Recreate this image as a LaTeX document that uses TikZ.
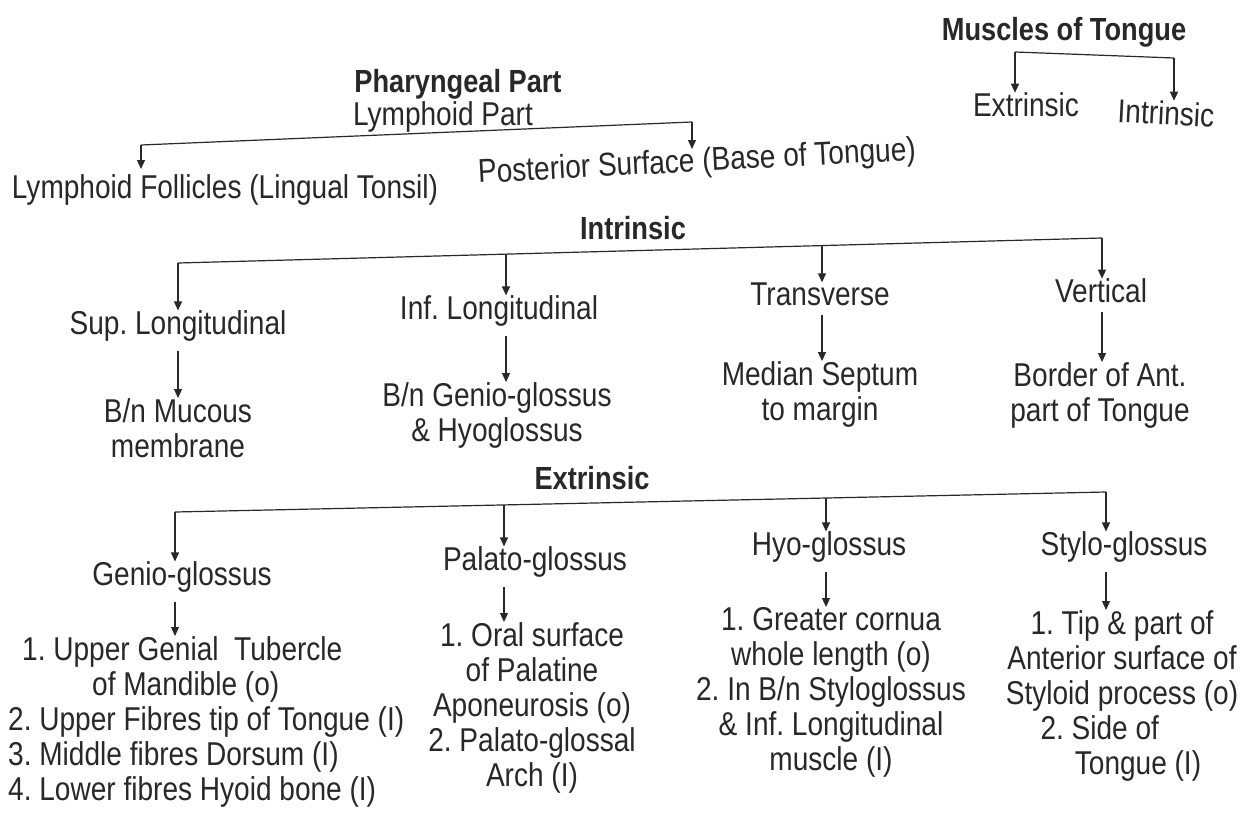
\documentclass[tikz,border=0pt]{standalone}
\usepackage{fontspec}
\setmainfont{Liberation Sans}[FakeStretch=0.85]
\usetikzlibrary{arrows.meta}
\definecolor{ink}{RGB}{40,40,40}
\frenchspacing
\begin{document}
\frenchspacing
\begin{tikzpicture}[x=1pt,y=-1pt,
  every node/.style={font=\fontsize{33}{35}\selectfont\frenchspacing, text=ink, inner sep=0pt},
  head/.style={font=\fontsize{32}{35}\selectfont\bfseries},
  brk/.style={draw=ink, line width=1.2pt},
  conn/.style={draw=ink, line width=1.2pt, -{Triangle[width=8pt,length=9pt]}},
  sub/.style={conn, shorten <=9pt},
  blk/.style={align=center, anchor=north}]
\useasboundingbox[fill=white] (0,0) rectangle (1252,822);

% ---- Muscles of Tongue
\node[head] (mt) at (1064,32) {Muscles of Tongue};
\coordinate (mtL) at (1015,52);
\coordinate (mtR) at (1174,58);
\node (mtE) at (1026,105) {Extrinsic};
\node[rotate=-3] (mtI) at (1166,113) {Intrinsic};
\draw[brk] (mtL) -- (mtR);
\draw[conn] (mtL) -- (mtL |- mtE.north);
\draw[conn] (mtR) -- (mtR |- mtI.north);

% ---- Pharyngeal part
\node[head] (ph) at (458,84) {Pharyngeal Part};
\node (lp) at (443,117) {Lymphoid Part};
\coordinate (pL) at (141,145);
\coordinate (pR) at (692,122);
\node (lf) at (225,190) {Lymphoid Follicles (Lingual Tonsil)};
\node[rotate=3] (ps) at (697,163) {Posterior Surface (Base of Tongue)};
\draw[brk] (pL) -- (pR);
\draw[conn] (pL) -- ++(0,24);
\draw[conn] (pR) -- ++(0,27);

% ---- Intrinsic
\node[head] (intr) at (633,228) {Intrinsic};
\coordinate (iA) at (178,263);
\coordinate (iD) at (1102,238);
\coordinate (iB) at (506,254);
\coordinate (iC) at (822,246);
\draw[brk] (iA) -- (iD);
\node (sl) at (178,326) {Sup. Longitudinal};
\node (il) at (499,311) {Inf. Longitudinal};
\node (tr) at (820,294) {Transverse};
\node (ve) at (1101,291) {Vertical};
\draw[conn] (iA) -- (iA |- sl.north);
\draw[conn] (iB) -- (iB |- il.north);
\draw[conn] (iC) -- (iC |- tr.north);
\draw[conn] (iD) -- (iD |- ve.north);
\node[blk] (sl2) at (178,398) {B/n Mucous\\membrane};
\node[blk] (il2) at (497,382) {B/n Genio-glossus\\\& Hyoglossus};
\node[blk] (tr2) at (820,361) {Median Septum\\to margin};
\node[blk] (ve2) at (1100,362) {Border of Ant.\\part of Tongue};
\draw[sub] (iA |- sl.south) -- (iA |- sl2.north);
\draw[sub] (iB |- il.south) -- (iB |- il2.north);
\draw[sub] (iC |- tr.south) -- (iC |- tr2.north);
\draw[sub] (iD |- ve.south) -- (iD |- ve2.north);

% ---- Extrinsic
\node[head] (extr) at (592,478) {Extrinsic};
\coordinate (eA) at (175,512);
\coordinate (eB) at (504,505);
\coordinate (eC) at (826,498);
\coordinate (eD) at (1106,492);
\draw[brk] (eA) -- (eD);
\node (gg) at (182,577) {Genio-glossus};
\node (pg) at (535,562) {Palato-glossus};
\node (hg) at (829,547) {Hyo-glossus};
\node (sg) at (1124,547) {Stylo-glossus};
\draw[conn] (eA) -- (eA |- gg.north);
\draw[conn] (eB) -- (eB |- pg.north);
\draw[conn] (eC) -- (eC |- hg.north);
\draw[conn] (eD) -- (eD |- sg.north);
\node[align=left, anchor=north west] (gg2) at (8,636)
  {\hspace*{14pt}1. Upper Genial\ \ Tubercle\\
   \hspace*{84pt}of Mandible (o)\\
   2. Upper Fibres tip of Tongue (I)\\
   3. Middle fibres Dorsum (I)\\
   4. Lower fibres Hyoid bone (I)};
\node[blk] (pg2) at (532,622)
  {1. Oral surface\\of Palatine\\Aponeurosis (o)\\2. Palato-glossal\\Arch (I)};
\node[blk] (hg2) at (831,607)
  {1. Greater cornua\\whole length (o)\\2. In B/n Styloglossus\\\& Inf. Longitudinal\\muscle (I)};
\node[blk] (sg2) at (1122,610)
  {1. Tip \& part of\\Anterior surface of\\Styloid process (o)\\\makebox[0pt][r]{2. Side of\hspace*{-37pt}}\\\hspace*{32pt}Tongue (I)};
\draw[sub] (eA |- gg.south) -- (eA |- gg2.north);
\draw[sub] (eB |- pg.south) -- (eB |- pg2.north);
\draw[sub] (eC |- hg.south) -- (eC |- hg2.north);
\draw[sub] (eD |- sg.south) -- (eD |- sg2.north);
\end{tikzpicture}
\end{document}
